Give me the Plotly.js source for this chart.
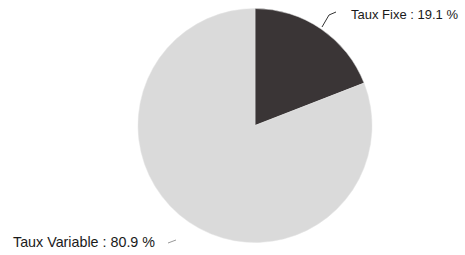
<!DOCTYPE html>
<html>
<head>
<meta charset="utf-8">
<script src="https://cdn.plot.ly/plotly-3.0.1.min.js"></script>
<style>html,body{margin:0;padding:0;background:#fff;}#chart{width:465px;height:255px;}</style>
</head>
<body>
<div id="chart"></div>
<script>
const labels = ["Taux Fixe", "Taux Variable"];
const values = [19.1, 80.9];
const colors = ["#3a3536", "#dadada"];

const W = 465, H = 255;
const px = (x) => x / W;
const py = (y) => 1 - y / H;

const data = [{
  type: "pie",
  labels: labels,
  values: values,
  sort: false,
  direction: "clockwise",
  rotation: 0,
  textinfo: "none",
  hoverinfo: "label+percent",
  marker: {colors: colors, line: {color: "#e4e4e4", width: 0.5}},
  domain: {x: [px(138), px(372)], y: [py(243), py(8)]},
  showlegend: false
}];

const fmt = (i) => labels[i] + " : " + values[i].toFixed(1) + " %";

const layout = {
  width: W, height: H,
  margin: {l: 0, r: 0, t: 0, b: 0},
  paper_bgcolor: "#ffffff",
  plot_bgcolor: "#ffffff",
  showlegend: false,
  font: {family: "Liberation Sans, Arial, sans-serif", color: "#1a1a1a"},
  annotations: [
    {text: fmt(0), xref: "paper", yref: "paper", x: px(349), y: py(14),
     xanchor: "left", yanchor: "middle", showarrow: false,
     font: {size: 13, color: "#1a1a1a"}},
    {text: fmt(1), xref: "paper", yref: "paper", x: px(11), y: py(242),
     xanchor: "left", yanchor: "middle", showarrow: false,
     font: {size: 14.3, color: "#1a1a1a"}}
  ],
  shapes: [
    {type: "path", xref: "paper", yref: "paper",
     path: "M " + px(336) + "," + py(12) + " L " + px(329) + "," + py(15) + " L " + px(322) + "," + py(27),
     line: {color: "#333", width: 1}},
    {type: "line", xref: "paper", yref: "paper",
     x0: px(168), y0: py(243), x1: px(176), y1: py(240),
     line: {color: "#999", width: 1}}
  ]
};

Plotly.newPlot("chart", data, layout, {displayModeBar: false, staticPlot: true});
</script>
</body>
</html>
